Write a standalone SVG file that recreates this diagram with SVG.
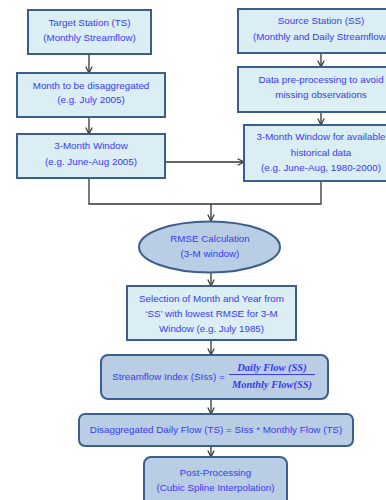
<svg xmlns="http://www.w3.org/2000/svg" width="386" height="500" viewBox="0 0 386 500">
<defs>
<style>
.box{fill:#DBEEF4;stroke:#3B5E8A;stroke-width:2}
.rbox{fill:#B9CDE5;stroke:#3B5E8A;stroke-width:2}
.t{font-family:"Liberation Sans",Arial,sans-serif;font-size:9.8px;fill:#3A3AF2;text-anchor:middle}
.m{font-family:"Liberation Serif","Times New Roman",serif;font-size:10.5px;font-style:italic;font-weight:bold;fill:#3A3AF2;text-anchor:middle}
.c{fill:none;stroke:#333;stroke-width:1.3}
</style>
<marker id="ah" viewBox="0 0 10 10" refX="9" refY="5" markerWidth="8" markerHeight="8" markerUnits="userSpaceOnUse" orient="auto">
<path d="M1,1 L9,5 L1,9" fill="none" stroke="#333" stroke-width="1.5"/>
</marker>
</defs>
<rect width="386" height="500" fill="#fff"/>
<g id="connectors">
<path class="c" d="M89,54 V73" marker-end="url(#ah)"/>
<path class="c" d="M89,117 V134" marker-end="url(#ah)"/>
<path class="c" d="M321,53 V67" marker-end="url(#ah)"/>
<path class="c" d="M321,112 V125" marker-end="url(#ah)"/>
<path class="c" d="M165,162 H244" marker-end="url(#ah)"/>
<path class="c" d="M89,178 V204 H321 V181"/>
<path class="c" d="M211,204 V221" marker-end="url(#ah)"/>
<path class="c" d="M211,273 V286" marker-end="url(#ah)"/>
<path class="c" d="M211,340 V355" marker-end="url(#ah)"/>
<path class="c" d="M211,399 V414" marker-end="url(#ah)"/>
<path class="c" d="M211,446 V457" marker-end="url(#ah)"/>
</g>
<g id="ts">
<rect class="box" x="28" y="10" width="123" height="44"/>
<text class="t" x="89.5" y="26">Target Station (TS)</text>
<text class="t" x="89.5" y="41">(Monthly Streamflow)</text>
</g>
<g id="month">
<rect class="box" x="17" y="73" width="148" height="44"/>
<text class="t" x="91" y="88.5">Month to be disaggregated</text>
<text class="t" x="91" y="103">(e.g. July 2005)</text>
</g>
<g id="window">
<rect class="box" x="17" y="134" width="148" height="44"/>
<text class="t" x="91" y="149">3-Month Window</text>
<text class="t" x="91" y="165">(e.g. June-Aug 2005)</text>
</g>
<g id="ss">
<rect class="box" x="238" y="9" width="166" height="44"/>
<text class="t" x="321" y="24">Source Station (SS)</text>
<text class="t" x="321" y="40">(Monthly and Daily Streamflow)</text>
</g>
<g id="prep">
<rect class="box" x="238" y="67" width="166" height="45"/>
<text class="t" x="321" y="83">Data pre-processing to avoid</text>
<text class="t" x="321" y="98">missing observations</text>
</g>
<g id="window-hist">
<rect class="box" x="244" y="125" width="154" height="56"/>
<text class="t" x="321" y="140">3-Month Window for available</text>
<text class="t" x="321" y="156">historical data</text>
<text class="t" x="321" y="171">(e.g. June-Aug, 1980-2000)</text>
</g>
<g id="rmse">
<ellipse class="rbox" cx="209.5" cy="247" rx="70.5" ry="25.5"/>
<text class="t" x="210" y="242">RMSE Calculation</text>
<text class="t" x="210" y="257">(3-M window)</text>
</g>
<g id="selection">
<rect class="box" x="127" y="286" width="169" height="54"/>
<text class="t" x="211.5" y="302">Selection of Month and Year from</text>
<text class="t" x="211.5" y="317">‘SS’ with lowest RMSE for 3-M</text>
<text class="t" x="211.5" y="332">Window (e.g. July 1985)</text>
</g>
<g id="index">
<rect class="rbox" x="101" y="355" width="227" height="44" rx="7"/>
<text class="t" x="168.5" y="380">Streamflow Index (SIss) =</text>
<text class="m" x="272" y="371">Daily Flow (SS)</text>
<line x1="229" y1="374.5" x2="315" y2="374.5" stroke="#3A3AF2" stroke-width="1"/>
<text class="m" x="272" y="388">Monthly Flow(SS)</text>
</g>
<g id="disagg">
<rect class="rbox" x="79" y="414" width="274" height="32" rx="6"/>
<text class="t" x="216" y="433">Disaggregated Daily Flow (TS) = SIss * Monthly Flow (TS)</text>
</g>
<g id="post">
<rect class="rbox" x="144" y="457" width="143" height="60" rx="7"/>
<text class="t" x="215.5" y="476">Post-Processing</text>
<text class="t" x="215.5" y="491">(Cubic Spline Interpolation)</text>
</g>
</svg>
